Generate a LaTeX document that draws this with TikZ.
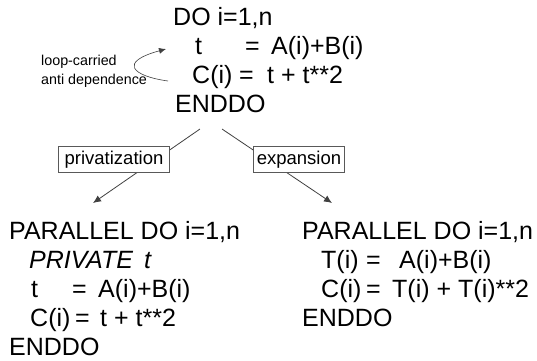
\documentclass[tikz,border=0pt]{standalone}
\usepackage{fontspec}
\setmainfont{Liberation Sans}
\usetikzlibrary{arrows.meta}
\tikzset{
  code/.style={anchor=base west, inner sep=0pt, font=\fontsize{25}{29}\selectfont},
  note/.style={anchor=base west, inner sep=0pt, font=\fontsize{14.3}{17}\selectfont},
  tbox/.style={draw=black!65, line width=0.8pt, fill=white, inner xsep=6pt, inner ysep=0pt,
    minimum height=26pt, font=\fontsize{18.5}{20}\selectfont},
  conn/.style={draw=black!75, line width=0.8pt, -{Latex[length=8pt,width=7pt]}},
}
\begin{document}
\begin{tikzpicture}[x=1pt,y=-1pt]
\useasboundingbox (0,0) rectangle (537,360);
% top loop
\node[code] (do) at (173,25) {DO i=1,n};
\node[code] (t1) at (195,54) {t};
\node[code] (eq1) at (245,54) {=};
\node[code] (ab1) at (271,54) {A(i)+B(i)};
\node[code] (c1) at (192,83) {C(i)};
\node[code] (eq2) at (239,83) {=};
\node[code] (tt1) at (267,83) {t + t**2};
\node[code] (end1) at (175,112) {ENDDO};
% note
\node[note] (n1) at (41,65) {loop-carried};
\node[note] (n2) at (41,84) {anti dependence};
\coordinate (cs) at (168,81);
\coordinate (ce) at (166,49);
\draw[draw=black!75, line width=0.6pt, -{Latex[length=7pt,width=6pt]}] (cs) .. controls (132,76) and (118,62) .. (ce);
% connectors
\coordinate (ls) at (200,129);
\coordinate (lt) at (93,203);
\coordinate (rs) at (222,129);
\coordinate (rt) at (332,203);
\draw[conn] (ls) -- (lt);
\draw[conn] (rs) -- (rt);
\node[tbox] (priv) at (114,159.5) {privatization};
\node[tbox, inner xsep=3pt] (exp) at (299,159.5) {expansion};
% bottom left
\node[code] (p1) at (9,239) {PARALLEL DO i=1,n};
\node[code] (pr) at (29,268) {\itshape PRIVATE};
\node[code] (prt) at (144,268) {\itshape t};
\node[code] (t2) at (31,297) {t};
\node[code] (eq3) at (72,297) {=};
\node[code] (ab2) at (98,297) {A(i)+B(i)};
\node[code] (c2) at (30,326) {C(i)};
\node[code] (eq4) at (75,326) {=};
\node[code] (tt2) at (100,326) {t + t**2};
\node[code] (end2) at (9,355) {ENDDO};
% bottom right
\node[code] (p2) at (302,239) {PARALLEL DO i=1,n};
\node[code] (ti) at (321,268) {T(i)};
\node[code] (eq5) at (366,268) {=};
\node[code] (ab3) at (399,268) {A(i)+B(i)};
\node[code] (c3) at (321,297) {C(i)};
\node[code] (eq6) at (366,297) {=};
\node[code] (tt3) at (392,297) {T(i) + T(i)**2};
\node[code] (end3) at (302,326) {ENDDO};
\end{tikzpicture}
\end{document}
